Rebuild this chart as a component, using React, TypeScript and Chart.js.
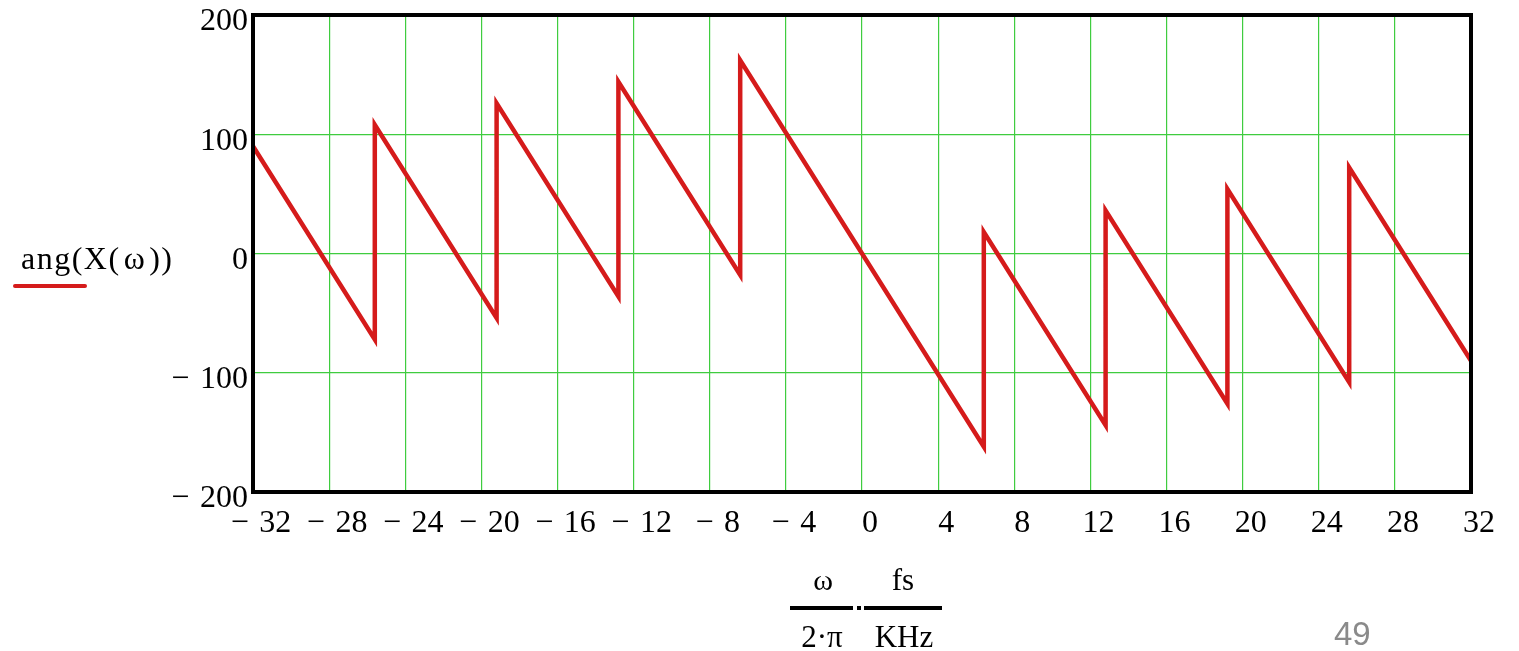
import React, { useEffect, useRef } from "react";
import { Chart, registerables } from "chart.js";

Chart.register(...registerables);

// Data: frequency (kHz) and phase (degrees)
const freqValues = [-32, -25.6, -25.6, -19.2, -19.2, -12.8, -12.8, -6.4, -6.4, 6.4, 6.4, 12.8, 12.8, 19.2, 19.2, 25.6, 25.6, 32];
const phaseValues = [90, -72, 108, -54, 126, -36, 144, -18, 162, -162, 18, -144, 36, -126, 54, -108, 72, -90];

const xTickValues = [-32, -28, -24, -20, -16, -12, -8, -4, 0, 4, 8, 12, 16, 20, 24, 28, 32];
const yTickValues = [-200, -100, 0, 100, 200];

const serif = "'Liberation Serif', 'Times New Roman', serif";
const lineRed = "#d51b1b";
const gridGreen = "#3fcc3f";

const fmt = (v: number) => (v < 0 ? "\u2212 \u200A" + Math.abs(v) : String(v));

const frameBorder = {
  id: "frameBorder",
  afterDraw(chart: any) {
    const { ctx, chartArea } = chart;
    ctx.save();
    ctx.strokeStyle = "#000";
    ctx.lineWidth = 4;
    ctx.strokeRect(chartArea.left, chartArea.top, chartArea.right - chartArea.left, chartArea.bottom - chartArea.top);
    ctx.restore();
  },
};

export default function App() {
  const canvasRef = useRef<HTMLCanvasElement | null>(null);

  useEffect(() => {
    if (!canvasRef.current) return;
    const chart = new Chart(canvasRef.current, {
      type: "line",
      data: {
        datasets: [
          {
            label: "ang(X(ω))",
            data: freqValues.map((x, i) => ({ x, y: phaseValues[i] })),
            borderColor: lineRed,
            borderWidth: 4.5,
            pointRadius: 0,
            fill: false,
            tension: 0,
            borderJoinStyle: "miter",
          },
        ],
      },
      options: {
        animation: false,
        responsive: false,
        maintainAspectRatio: false,
        layout: { padding: { left: 0, top: 15, right: 48, bottom: 0 } },
        plugins: { legend: { display: false }, tooltip: { enabled: false } },
        scales: {
          x: {
            type: "linear",
            min: -32,
            max: 32,
            afterBuildTicks: (s: any) => {
              s.ticks = xTickValues.map((v) => ({ value: v }));
            },
            afterFit: (s: any) => {
              s.height = 159;
              s.paddingLeft = 0;
              s.paddingRight = 0;
            },
            grid: { color: gridGreen, lineWidth: 1.2, drawTicks: false },
            border: { display: false },
            ticks: {
              autoSkip: false,
              maxRotation: 0,
              padding: 12,
              labelOffset: 8,
              color: "#000",
              font: { family: serif, size: 32 },
              callback: (v: any) => fmt(Number(v)),
            },
          },
          y: {
            type: "linear",
            min: -200,
            max: 200,
            afterBuildTicks: (s: any) => {
              s.ticks = yTickValues.map((v) => ({ value: v }));
            },
            afterFit: (s: any) => {
              s.width = 253;
              s.paddingTop = 0;
              s.paddingBottom = 0;
            },
            grid: { color: gridGreen, lineWidth: 1.2, drawTicks: false },
            border: { display: false },
            ticks: {
              padding: 5,
              labelOffset: 7,
              color: "#000",
              font: { family: serif, size: 32 },
              callback: (v: any) => fmt(Number(v)),
            },
          },
        },
      },
      plugins: [frameBorder],
    });
    return () => chart.destroy();
  }, []);

  const abs = (o: React.CSSProperties): React.CSSProperties => ({ position: "absolute", margin: 0, whiteSpace: "nowrap", ...o });

  return (
    <div style={{ position: "fixed", left: 0, top: 0, width: 1519, height: 651, background: "#fff", overflow: "hidden" }}>
      <canvas ref={canvasRef} width={1519} height={651} style={{ position: "absolute", left: 0, top: 0, width: 1519, height: 651 }} />
      {/* y-axis title with legend line */}
      <div style={abs({ left: 21, top: 242, fontFamily: serif, fontSize: 32, lineHeight: "32px", color: "#000", letterSpacing: 1.5 })}>
        ang(X(<span style={{ padding: "0 3px" }}>ω</span>))
      </div>
      <div style={abs({ left: 13, top: 284, width: 74, height: 4, background: lineRed, borderRadius: 2 })} />
      {/* x-axis title: ω/(2·π) · fs/KHz */}
      <div style={abs({ left: 763, top: 565, width: 120, textAlign: "center", fontFamily: serif, fontSize: 30, lineHeight: "30px" })}>ω</div>
      <div style={abs({ left: 843, top: 565, width: 120, textAlign: "center", fontFamily: serif, fontSize: 31, lineHeight: "30px" })}>fs</div>
      <div style={abs({ left: 790, top: 606, width: 63, height: 4, background: "#000" })} />
      <div style={abs({ left: 857, top: 606, width: 4, height: 4, background: "#000" })} />
      <div style={abs({ left: 864, top: 606, width: 78, height: 4, background: "#000" })} />
      <div style={abs({ left: 762, top: 622, width: 120, textAlign: "center", fontFamily: serif, fontSize: 31, lineHeight: "30px" })}>2·π</div>
      <div style={abs({ left: 844, top: 622, width: 120, textAlign: "center", fontFamily: serif, fontSize: 31, lineHeight: "30px" })}>KHz</div>
      {/* page number */}
      <div style={abs({ left: 1334, top: 616, fontFamily: "'Liberation Sans Narrow', 'Liberation Sans', sans-serif", fontSize: 33, lineHeight: "36px", color: "#8a8a8a" })}>49</div>
    </div>
  );
}
